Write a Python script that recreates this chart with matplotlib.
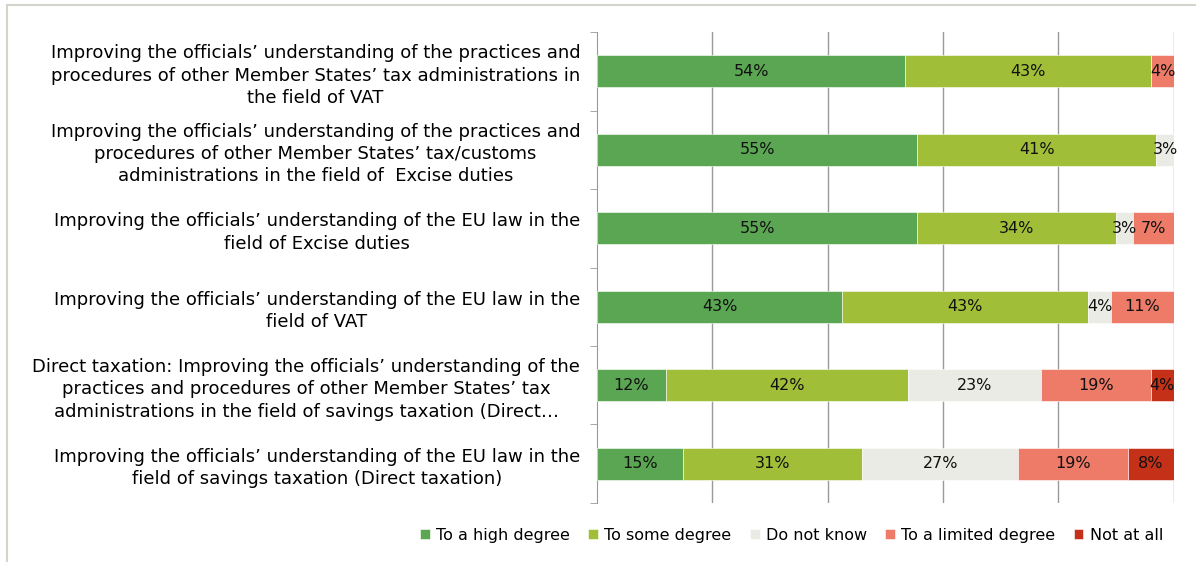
import numpy as np
import matplotlib.pyplot as plt
from matplotlib.lines import Line2D

plt.rcParams['font.family'] = ['DejaVu Sans']

categories = [
    "Improving the officials\u2019 understanding of the practices and\nprocedures of other Member States\u2019 tax administrations in\nthe field of VAT",
    "Improving the officials\u2019 understanding of the practices and\nprocedures of other Member States\u2019 tax/customs\nadministrations in the field of  Excise duties",
    "Improving the officials\u2019 understanding of the EU law in the\nfield of Excise duties",
    "Improving the officials\u2019 understanding of the EU law in the\nfield of VAT",
    "Direct taxation: Improving the officials\u2019 understanding of the\npractices and procedures of other Member States\u2019 tax\nadministrations in the field of savings taxation (Direct\u2026",
    "Improving the officials\u2019 understanding of the EU law in the\nfield of savings taxation (Direct taxation)",
]
series_names = ["To a high degree", "To some degree", "Do not know",
                "To a limited degree", "Not at all"]
high = [54, 55, 55, 43, 12, 15]
some = [43, 41, 34, 43, 42, 31]
dont_know = [0, 3, 3, 4, 23, 27]
limited = [4, 0, 7, 11, 19, 19]
not_at_all = [0, 0, 0, 0, 4, 8]
colors = ["#5BA652", "#A0BE37", "#EBEBE6", "#ED7B68", "#C43018"]

data = np.array([high, some, dont_know, limited, not_at_all], dtype=float)
totals = data.sum(axis=0)
shares = data / totals * 100  # 100% stacked, like the original

fig = plt.figure(figsize=(11.96, 5.62), dpi=100)
ax = fig.add_axes([0.499, 0.105, 0.4825, 0.838])

y = np.arange(len(categories))
left = np.zeros(len(categories))
for i in range(len(series_names)):
    ax.barh(y, shares[i], left=left, height=0.41, color=colors[i],
            label=series_names[i], zorder=3, edgecolor='white', linewidth=0.4)
    for j in range(len(categories)):
        if data[i, j] > 0:
            ax.text(left[j] + shares[i, j] / 2, y[j], f"{int(data[i, j])}%",
                    ha='center', va='center', fontsize=11.5, color='#111111', zorder=4)
    left += shares[i]

ax.set_xlim(0, 100)
ax.set_ylim(len(categories) - 0.5, -0.5)
ax.set_xticks(np.arange(20, 101, 20))
ax.xaxis.grid(True, color='#999999', linewidth=1, zorder=0)
ax.tick_params(axis='x', length=0, labelbottom=False)
ax.set_yticks(y)
ax.set_yticklabels(categories, fontsize=13, multialignment='center', linespacing=1.32)
ax.tick_params(axis='y', length=0, pad=12)
ax.set_yticks(np.arange(-0.5, len(categories)), minor=True)
ax.tick_params(axis='y', which='minor', length=5, color='#999999')
for s in ['top', 'right', 'bottom']:
    ax.spines[s].set_visible(False)
ax.spines['left'].set_color('#999999')

fig.legend(loc='center', bbox_to_anchor=(0.662, 0.048), ncol=5, frameon=False,
           fontsize=11.5, handlelength=0.6, handleheight=0.6, handletextpad=0.4,
           columnspacing=1.15)

fig.add_artist(Line2D([0.006, 0.006], [0, 0.991], color='#D4D4CC', linewidth=1.5,
                      transform=fig.transFigure))
fig.add_artist(Line2D([0.006, 1], [0.991, 0.991], color='#D4D4CC', linewidth=1.5,
                      transform=fig.transFigure))

fig.savefig('out.png', dpi=100)
